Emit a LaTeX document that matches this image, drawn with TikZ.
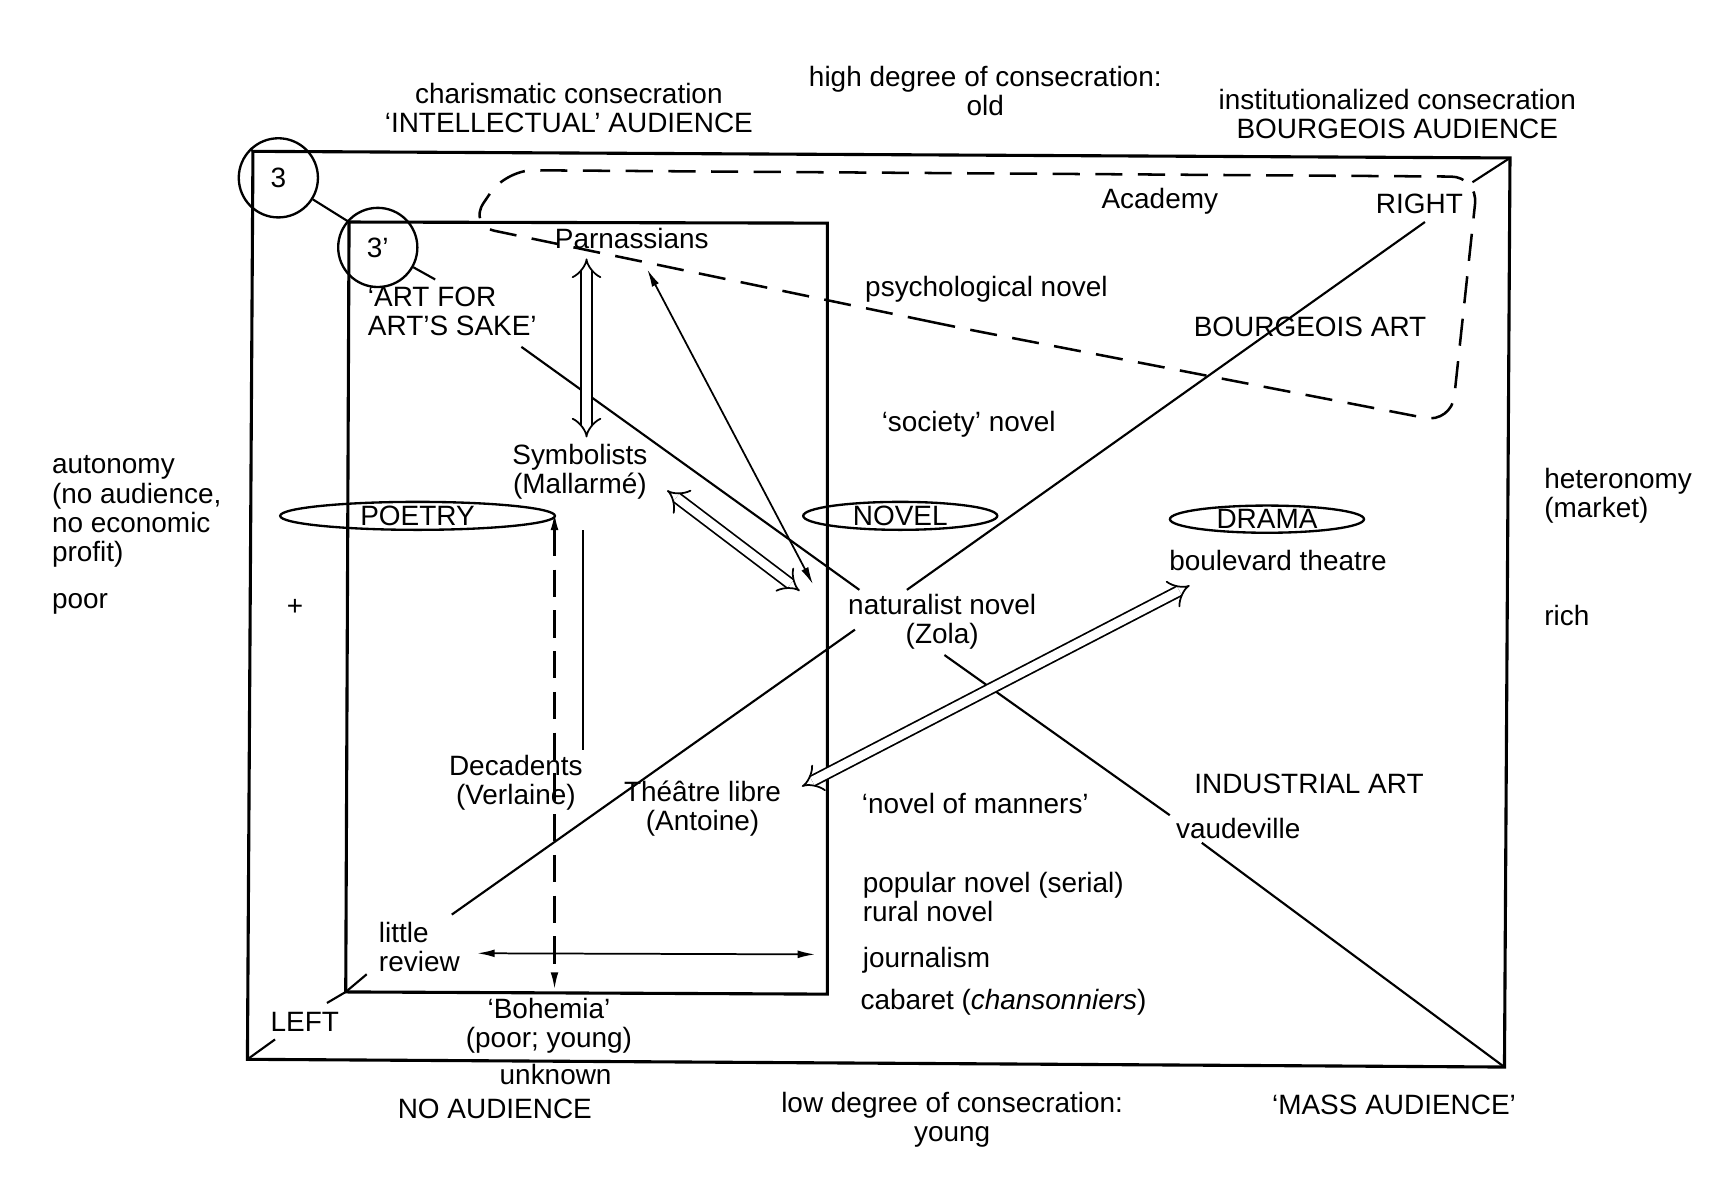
\documentclass[tikz,border=0pt]{standalone}
\usepackage{fontspec}
\setmainfont{Liberation Sans}
\usetikzlibrary{arrows.meta,shapes.geometric}
\begin{document}
\begin{tikzpicture}[x=0.02cm,y=-0.02cm,
  every node/.style={font=\fontsize{14.4}{15}\selectfont, inner sep=1pt, align=center},
  ln/.style={line width=1.1pt},
  box/.style={line width=1.6pt},
  thin arr/.style={line width=0.9pt,{Latex[length=9pt,width=4pt]}-{Latex[length=9pt,width=4pt]}},
  hollow/.style={line width=0.9pt,double distance=4.5pt,{Implies[length=8pt]}-{Implies[length=8pt]}},
  oval/.style={ellipse,draw,line width=1.2pt,inner sep=0pt,minimum width=118\pgflinewidth},
  circ/.style={circle,draw,line width=1.2pt,inner sep=1pt,minimum size=34\pgflinewidth}]
\useasboundingbox (0,0) rectangle (1568,1085);
% frames
\coordinate (oTL) at (229,137); \coordinate (oTR) at (1367,143);
\coordinate (oBR) at (1362,966); \coordinate (oBL) at (224,959);
\coordinate (iTL) at (316,201); \coordinate (iTR) at (749,202);
\coordinate (iBR) at (749,900); \coordinate (iBL) at (313,898);
\draw[box] (oTL) -- (oTR) -- (oBR) -- (oBL) -- cycle;
\draw[box] (iTL) -- (iTR) -- (iBR) -- (iBL) -- cycle;
% dashed Academy zone
\coordinate (d1) at (870,297); \coordinate (d2) at (424,204);
\coordinate (d3) at (458,154); \coordinate (d4) at (1338,160);
\coordinate (d5) at (1314,383);
\draw[line width=1.3pt,dash pattern=on 14pt off 8pt,rounded corners=14] (d1) -- (d2) -- (d3) -- (d4) -- (d5) -- cycle;
% texts
\node (cc) at (515,98) {charismatic consecration\\`INTELLECTUAL' AUDIENCE};
\node (hd) at (892,82) {high degree of consecration:\\old};
\node (ic) at (1265,103) {institutionalized consecration\\BOURGEOIS AUDIENCE};
\node (acad) at (1050,182) {Academy};
\node (right) at (1285,185) {RIGHT};
\node (parn) at (572,216) {Parnassians};
\node (psy) at (893,262) {psychological novel};
\node[align=left,anchor=west] (afa) at (331,282) {`ART FOR\\ART'S SAKE'};
\node (bart) at (1186,296) {BOURGEOIS ART};
\node (soc) at (877,384) {`society' novel};
\node (symb) at (525,427) {Symbolists\\(Mallarmé)};
\node[align=left,anchor=west] (auto) at (45,463) {autonomy\\(no audience,\\no economic\\profit)};
\node[anchor=west] (poor) at (45,547) {poor};
\node (plus) at (267,550) {+};
\node[align=left,anchor=west] (het) at (1396,449) {heteronomy\\(market)};
\node[anchor=west] (rich) at (1396,557) {rich};
\node[oval] (poetry) at (378,467) {POETRY};
\node[oval,minimum width=100pt] (novel) at (815,467) {NOVEL};
\node[oval,minimum width=100pt] (drama) at (1147,470) {DRAMA};
\node (boul) at (1157,507) {boulevard theatre};
\node (nat) at (853,563) {naturalist novel\\(Zola)};
\node (ind) at (1185,710) {INDUSTRIAL ART};
\node (dec) at (467,709) {Decadents\\(Verlaine)};
\node (theat) at (636,732) {Théâtre libre\\(Antoine)};
\node (man) at (883,727) {`novel of manners'};
\node (vaud) at (1121,750) {vaudeville};
\node[align=left,anchor=west] (pop) at (779,812) {popular novel (serial)\\rural novel};
\node[anchor=west] (jour) at (779,869) {journalism};
\node[anchor=west] (cab) at (777,907) {cabaret (\textit{chansonniers})};
\node[align=left,anchor=west] (lr) at (341,857) {little\\review};
\node (left) at (276,925) {LEFT};
\node (boh) at (497,929) {`Bohemia'\\(poor; young)};
\node (unk) at (503,973) {unknown};
\node (noa) at (448,1004) {NO AUDIENCE};
\node (low) at (862,1014) {low degree of consecration:\\young};
\node (mass) at (1262,1000) {`MASS AUDIENCE'};
\node[circ] (c3) at (252,161) {3};
\node[circ] (c3p) at (342,224) {3'};
% diagonal TL-BR
\coordinate (afaEnd) at (394,253); \coordinate (afaS) at (472,314);
\coordinate (natNW) at (778,534); \coordinate (zolaSE) at (855,593);
\coordinate (vaudA) at (1059,738); \coordinate (vaudB) at (1088,763);
\draw[ln] (oTL) -- (c3); \draw[ln] (c3) -- (iTL) -- (c3p); \draw[ln] (c3p) -- (afaEnd);
\draw[ln] (afaS) -- (natNW);
\draw[ln] (zolaSE) -- (vaudA);
\draw[ln] (vaudB) -- (oBR);
% diagonal BL-TR
\coordinate (leftA) at (249,941); \coordinate (leftB) at (296,908);
\coordinate (lrA) at (332,882); \coordinate (lrB) at (409,828);
\coordinate (natSW) at (774,570); \coordinate (natNE) at (821,534);
\coordinate (rightA) at (1290,201); \coordinate (rightB) at (1333,165);
\draw[ln] (oBL) -- (leftA);
\draw[ln] (leftB) -- (iBL) -- (lrA);
\draw[ln] (lrB) -- (natSW);
\draw[ln] (natNE) -- (rightA);
\draw[ln] (rightB) -- (oTR);
% arrows
\coordinate (pa) at (531,234); \coordinate (sa) at (531,396);
\draw[hollow] (pa) -- (sa);
\coordinate (sb) at (604,444); \coordinate (nb) at (724,535);
\draw[hollow] (sb) -- (nb);
\coordinate (pc) at (586,244); \coordinate (nc) at (736,529);
\draw[thin arr] (pc) -- (nc);
\coordinate (ta) at (726,712); \coordinate (ba) at (1077,530);
\draw[hollow] (ta) -- (ba);
\coordinate (dvT) at (502,464); \coordinate (dvB) at (502,896);
\draw[line width=1.2pt,dash pattern=on 14pt off 7pt,{Latex[length=9pt,width=4pt]}-{Latex[length=9pt,width=4pt]}] (dvT) -- (dvB);
\coordinate (svT) at (528,480); \coordinate (svB) at (528,679);
\draw[ln] (svT) -- (svB);
\coordinate (hL) at (432,863); \coordinate (hR) at (738,864);
\draw[thin arr] (hL) -- (hR);
\end{tikzpicture}
\end{document}
